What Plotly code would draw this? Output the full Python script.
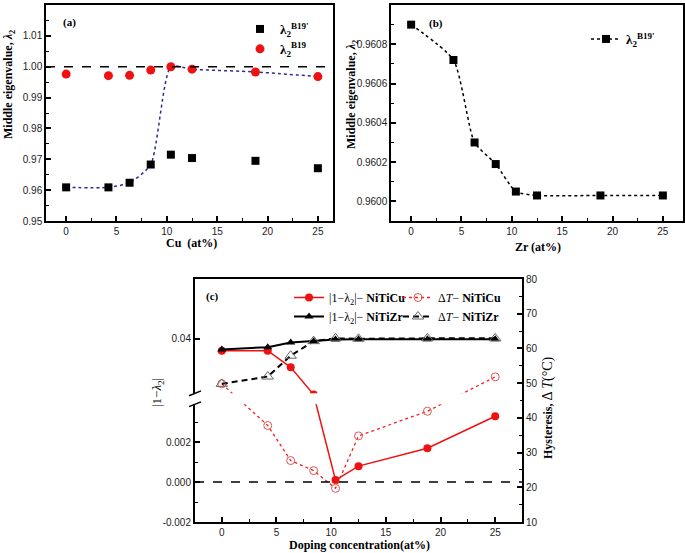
import plotly.graph_objects as go

# %% data
# (a) NiTiCu middle eigenvalue
cu_x = [0, 4.2, 6.3, 8.4, 10.4, 12.5, 18.8, 25]
cu_b19p = [0.9609, 0.9609, 0.9624, 0.9683, 0.9715, 0.9704, 0.9695, 0.9671]
cu_b19 = [0.9976, 0.9971, 0.9972, 0.9989, 1.0000, 0.9992, 0.9983, 0.9968]
cu_fit = [0.9609, 0.9609, 0.9624, 0.9683, 1.0000, 0.9992, 0.9983, 0.9968]

# (b) NiTiZr middle eigenvalue
zr_x = [0, 4.2, 6.3, 8.4, 10.4, 12.5, 18.8, 25]
zr_b19p = [0.96090, 0.96072, 0.96030, 0.96019, 0.96005, 0.96003, 0.96003, 0.96003]

# (c) |1-lambda2| and hysteresis
dop_x = [0, 4.2, 6.3, 8.4, 10.4, 12.5, 18.8, 25]
cu_dev = [0.0390, 0.0390, 0.0376, 0.0317, 0.0001, 0.0008, 0.0017, 0.0033]
zr_dev = [0.0391, 0.0393, 0.0397, 0.0398, 0.03995, 0.03997, 0.03997, 0.03997]
cu_dT = [49.8, 37.8, 27.7, 24.8, 19.7, 34.8, 41.9, 51.8]
zr_dT = [49.8, 51.9, 57.9, 62.1, 62.9, 62.8, 62.9, 62.9]

left_ticks = [-0.002, 0.0, 0.002, 0.04]
left_minor = [-0.001, 0.001, 0.003]

# %% broken left axis of (c)
LO_TOP = 0.0039    # top of lower segment
HI_BOT = 0.0354    # bottom of upper segment
GAP = 0.00055      # size of the break in lower-segment units
HI_SCALE = 0.593   # upper segment compression
HI_TOP = 0.04506


def brk(v):
    if v <= LO_TOP:
        return v
    if v < HI_BOT:
        return LO_TOP + (v - LO_TOP) / (HI_BOT - LO_TOP) * GAP
    return LO_TOP + GAP + (v - HI_BOT) * HI_SCALE


W, H = 685, 553


def px(x):
    return x / W


def py(y):
    return 1 - y / H


SERIF = "Liberation Serif"
SANS = "Liberation Sans"

fig = go.Figure()

# (a)
fig.add_trace(go.Scatter(x=cu_x, y=cu_fit, mode="lines", line=dict(color="#2b2b9a", width=1.5, dash="dot", shape="spline", smoothing=0.6),
                         showlegend=False, xaxis="x", yaxis="y"))
fig.add_trace(go.Scatter(x=cu_x, y=cu_b19p, mode="markers", name="<b>λ<sub>2</sub><sup>B19'</sup></b>",
                         marker=dict(symbol="square", size=8, color="black"), xaxis="x", yaxis="y", legend="legend"))
fig.add_trace(go.Scatter(x=cu_x, y=cu_b19, mode="markers", name="<b>λ<sub>2</sub><sup>B19</sup></b>",
                         marker=dict(symbol="circle", size=9, color="#ee1111"), xaxis="x", yaxis="y", legend="legend"))

# (b)
fig.add_trace(go.Scatter(x=zr_x, y=zr_b19p, mode="lines+markers", name="<b>λ<sub>2</sub><sup>B19'</sup></b>",
                         line=dict(color="black", width=1.5, dash="dot", shape="spline", smoothing=0.6),
                         marker=dict(symbol="square", size=8, color="black"), xaxis="x2", yaxis="y2", legend="legend2"))

# (c)
fig.add_trace(go.Scatter(x=dop_x, y=[brk(v) for v in cu_dev], mode="lines+markers", name="|1−λ<sub>2</sub>|− <b>NiTiCu</b>",
                         line=dict(color="#ee1111", width=1.5), marker=dict(symbol="circle", size=8, color="#ee1111"),
                         xaxis="x3", yaxis="y3", legend="legend3"))
fig.add_trace(go.Scatter(x=dop_x, y=[brk(v) for v in zr_dev], mode="lines+markers", name="|1−λ<sub>2</sub>|− <b>NiTiZr</b>",
                         line=dict(color="black", width=2), marker=dict(symbol="triangle-up", size=8, color="black"),
                         xaxis="x3", yaxis="y3", legend="legend3"))
fig.add_trace(go.Scatter(x=dop_x, y=cu_dT, mode="lines+markers", name="Δ<i>T</i>− <b>NiTiCu</b>",
                         line=dict(color="#ee2222", width=1.3, dash="3px,3px"),
                         marker=dict(symbol="circle-open", size=8, color="#e05555", line=dict(width=1)),
                         xaxis="x3", yaxis="y4", legend="legend4"))
fig.add_trace(go.Scatter(x=dop_x, y=zr_dT, mode="lines+markers", name="Δ<i>T</i>− <b>NiTiZr</b>",
                         line=dict(color="black", width=2, dash="6px,4px"),
                         marker=dict(symbol="triangle-up-open", size=10, color="#666666", line=dict(width=1)),
                         xaxis="x3", yaxis="y4", legend="legend4"))

axis_style = dict(showline=True, linecolor="black", linewidth=1.5, ticks="inside", ticklen=5, tickwidth=1.5,
                  tickcolor="black", showgrid=False, zeroline=False,
                  tickfont=dict(family=SANS, size=10, color="#222"))
minor = lambda d: dict(dtick=d, ticks="inside", ticklen=3, tickwidth=1.2, tickcolor="black")

dom_a = [px(46), px(333)]
dom_b = [px(391), px(683)]
dom_ab_y = [py(221), py(5)]

fig.update_layout(
    width=W, height=H, template="none", paper_bgcolor="white", plot_bgcolor="rgba(0,0,0,0)",
    margin=dict(l=0, r=0, t=0, b=0),
    xaxis=dict(domain=dom_a, anchor="y", range=[-2, 26.5], dtick=5, mirror=True, minor=minor(2.5), **axis_style),
    yaxis=dict(domain=dom_ab_y, anchor="x", range=[0.95, 1.02], dtick=0.01, tickformat=".2f", mirror=True,
               minor=minor(0.005), **axis_style),
    xaxis2=dict(domain=dom_b, anchor="y2", range=[-2, 27], dtick=5, mirror=True, minor=minor(2.5), **axis_style),
    yaxis2=dict(domain=dom_ab_y, anchor="x2", range=[0.9599, 0.9610], dtick=0.0002, tickformat=".4f", mirror=True,
                minor=minor(0.0001), **axis_style),
    xaxis3=dict(domain=[px(195), px(522)], anchor="y3", range=[-2.45, 27.45], dtick=5, mirror=True,
                minor=minor(2.5), **{**axis_style, "linewidth": 2}),
    yaxis3=dict(domain=[py(522), py(279)], anchor="x3", range=[-0.002, brk(HI_TOP)],
                tickmode="array", tickvals=[brk(v) for v in left_ticks],
                ticktext=["-0.002", "0.000", "0.002", "0.04"],
                minor=dict(tickmode="array", tickvals=[brk(v) for v in left_minor], ticks="inside", ticklen=3,
                           tickwidth=1.2, tickcolor="black"),
                **{**axis_style, "linewidth": 2}),
    yaxis4=dict(overlaying="y3", anchor="x3", side="right", range=[10, 80], dtick=10, minor=minor(5),
                **{**axis_style, "linewidth": 2}),
    legend=dict(x=px(240), y=py(14), xanchor="left", yanchor="top", bgcolor="rgba(0,0,0,0)",
                font=dict(family=SERIF, size=13, color="black"), itemwidth=30),
    legend2=dict(x=px(586), y=py(24), xanchor="left", yanchor="top", bgcolor="rgba(0,0,0,0)",
                 font=dict(family=SERIF, size=13, color="black"), itemwidth=30),
    legend3=dict(x=px(289), y=py(283), xanchor="left", yanchor="top", bgcolor="rgba(0,0,0,0)",
                 font=dict(family=SERIF, size=12, color="black"), itemwidth=30, tracegroupgap=0),
    legend4=dict(x=px(398), y=py(283), xanchor="left", yanchor="top", bgcolor="rgba(0,0,0,0)",
                 font=dict(family=SERIF, size=12, color="black"), itemwidth=30, tracegroupgap=0),
)

# reference lines
fig.add_shape(type="line", xref="x domain", yref="y", x0=0, x1=1, y0=1.0, y1=1.0,
              line=dict(color="black", width=1.5, dash="dash"))
fig.add_shape(type="line", xref="x3 domain", yref="y3", x0=0, x1=1, y0=brk(0.0), y1=brk(0.0),
              line=dict(color="black", width=1.5, dash="dash"))

# axis break of (c)
fig.add_shape(type="rect", xref="x3 domain", yref="y3", x0=0.006, x1=0.994, y0=brk(LO_TOP), y1=brk(HI_BOT),
              line=dict(width=0), fillcolor="white", layer="above")
fig.add_shape(type="rect", xref="paper", yref="y3", x0=px(193), x1=px(198), y0=brk(LO_TOP), y1=brk(HI_BOT),
              line=dict(width=0), fillcolor="white", layer="above")
for y0 in (brk(LO_TOP), brk(HI_BOT)):
    fig.add_shape(type="line", xref="paper", yref="y3", x0=px(189), x1=px(201), y0=y0 - 0.00012, y1=y0 + 0.00012,
                  line=dict(color="black", width=1.5), layer="above")

ann = [
    dict(text="<b>(a)</b>", x=px(69), y=py(23), size=11),
    dict(text="<b>(b)</b>", x=px(436), y=py(24), size=11),
    dict(text="<b>(c)</b>", x=px(212), y=py(296), size=11),
    dict(text="<b>Cu  (at%)</b>", x=px(191), y=py(243), size=12),
    dict(text="<b>Zr (at%)</b>", x=px(538), y=py(247), size=12),
    dict(text="<b>Doping concentration(at%)</b>", x=px(359), y=py(545), size=12),
    dict(text="<b>Middle eigenvalue, <i>λ</i><sub>2</sub></b>", x=px(9), y=py(85), size=12, angle=-90),
    dict(text="<b>Middle eigenvalue, <i>λ</i><sub>2</sub></b>", x=px(352), y=py(95), size=12, angle=-90),
    dict(text="|1−<i>λ</i><sub>2</sub>|", x=px(157), y=py(393), size=13, angle=-90),
    dict(text="<b>Hysteresis,</b> <span style='font-size:14px'>Δ <i>T</i>(°C)</span>", x=px(548), y=py(408),
         size=12, angle=-90),
]
for a in ann:
    fig.add_annotation(text=a["text"], x=a["x"], y=a["y"], xref="paper", yref="paper", showarrow=False,
                       textangle=a.get("angle", 0), font=dict(family=SERIF, size=a["size"], color="black"),
                       xanchor="center", yanchor="middle")

# page body has a default 8px margin; drop it so the figure fills the window
fig.write_html("out.html", config={"displayModeBar": False},
               post_script="document.body.style.margin='0';")
